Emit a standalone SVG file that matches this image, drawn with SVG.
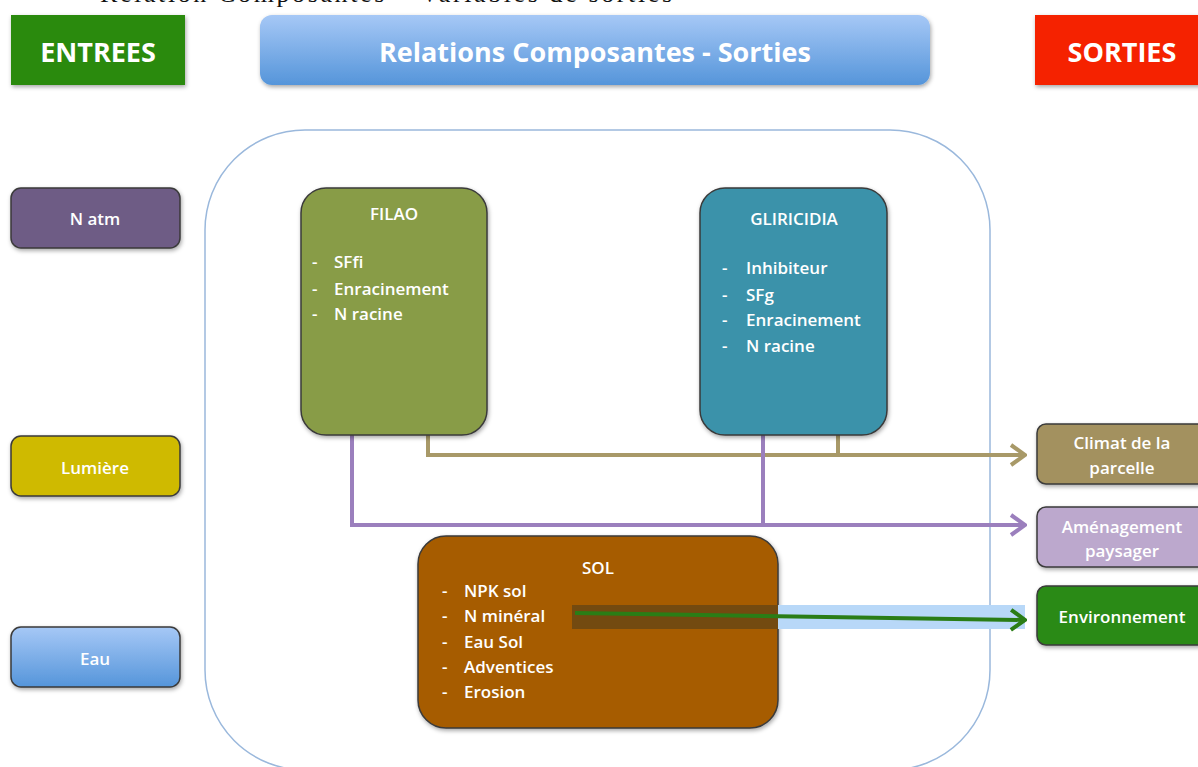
<svg xmlns="http://www.w3.org/2000/svg" width="1198" height="767" viewBox="0 0 1198 767">
<defs>
<style>
.t{font-family:"Open Sans","Liberation Sans",sans-serif;fill:#fff;font-weight:600}
.h{font-family:"Open Sans","Liberation Sans",sans-serif;fill:#fff;font-weight:700;font-size:27px}
.n{font-size:17px}
.box{stroke:#3a3a3a;stroke-width:1.5;filter:url(#sh)}
.c{fill:none;stroke-width:4}
</style>
<filter id="sh" x="-10%" y="-10%" width="125%" height="130%"><feDropShadow dx="1" dy="2" stdDeviation="2" flood-color="#000" flood-opacity="0.35"/></filter>
<linearGradient id="bl" x1="0" y1="0" x2="0" y2="1"><stop offset="0" stop-color="#a6c8f6"/><stop offset="1" stop-color="#5595da"/></linearGradient>
<marker id="aT" viewBox="0 0 20 24" refX="18" refY="12" markerWidth="20" markerHeight="24" markerUnits="userSpaceOnUse" orient="auto"><path d="M4,2 L18,12 L4,22" fill="none" stroke="#a89968" stroke-width="4"/></marker>
<marker id="aP" viewBox="0 0 20 24" refX="18" refY="12" markerWidth="20" markerHeight="24" markerUnits="userSpaceOnUse" orient="auto"><path d="M4,2 L18,12 L4,22" fill="none" stroke="#9b7fbd" stroke-width="4"/></marker>
<marker id="aG" viewBox="0 0 20 24" refX="18" refY="12" markerWidth="20" markerHeight="24" markerUnits="userSpaceOnUse" orient="auto"><path d="M4,2 L18,12 L4,22" fill="none" stroke="#2a7d16" stroke-width="4"/></marker>
</defs>
<rect width="1198" height="767" fill="#fff"/>
<text x="100" y="2" font-family="Liberation Serif,serif" font-size="26" fill="#111" textLength="572">Relation Composantes – Variables de sorties</text>

<g id="entrees"><rect x="11" y="15" width="174" height="70" fill="#2a8a0a" filter="url(#sh)"/><text class="h" x="98" y="62" text-anchor="middle">ENTREES</text></g>
<g id="titre"><rect x="260" y="15" width="670" height="70" rx="12" fill="url(#bl)" filter="url(#sh)"/><text class="h" x="595" y="62" text-anchor="middle">Relations Composantes - Sorties</text></g>
<g id="sorties"><rect x="1035" y="15" width="170" height="70" fill="#f52000" filter="url(#sh)"/><text class="h" x="1122" y="62" text-anchor="middle">SORTIES</text></g>

<g id="systeme"><rect x="205" y="130" width="785" height="640" rx="100" fill="none" stroke="#9ab8dc" stroke-width="1.5"/></g>

<g id="natm"><rect class="box" x="11" y="188" width="169" height="60" rx="10" fill="#6e5b85"/><text class="t n" x="95" y="225" text-anchor="middle">N atm</text></g>
<g id="lumiere"><rect class="box" x="11" y="436" width="169" height="60" rx="10" fill="#cfba04"/><text class="t n" x="95" y="474" text-anchor="middle">Lumière</text></g>
<g id="eau"><rect class="box" x="11" y="627" width="169" height="60" rx="10" fill="url(#bl)"/><text class="t n" x="95" y="665" text-anchor="middle">Eau</text></g>

<g id="connecteurs">
<path class="c" stroke="#a89968" d="M428,435 V455 H1025" marker-end="url(#aT)"/>
<path class="c" stroke="#a89968" d="M838,435 V455"/>
<path class="c" stroke="#9b7fbd" d="M352,435 V525 H1025" marker-end="url(#aP)"/>
<path class="c" stroke="#9b7fbd" d="M763,435 V525"/>
</g>

<g id="filao"><rect class="box" x="301" y="188" width="186" height="247" rx="25" fill="#889c46"/>
<text class="t n" x="394" y="220" text-anchor="middle">FILAO</text>
<text class="t n" x="312" y="268">-</text><text class="t n" x="334" y="268">SFfi</text>
<text class="t n" x="312" y="295">-</text><text class="t n" x="334" y="295">Enracinement</text>
<text class="t n" x="312" y="320">-</text><text class="t n" x="334" y="320">N racine</text></g>

<g id="gliricidia"><rect class="box" x="700" y="188" width="187" height="247" rx="25" fill="#3a92aa"/>
<text class="t n" x="794" y="225" text-anchor="middle">GLIRICIDIA</text>
<text class="t n" x="722" y="274">-</text><text class="t n" x="746" y="274">Inhibiteur</text>
<text class="t n" x="722" y="301">-</text><text class="t n" x="746" y="301">SFg</text>
<text class="t n" x="722" y="326">-</text><text class="t n" x="746" y="326">Enracinement</text>
<text class="t n" x="722" y="352">-</text><text class="t n" x="746" y="352">N racine</text></g>

<g id="sol"><rect class="box" x="418" y="536" width="360" height="192" rx="28" fill="#a65c00"/>
<text class="t n" x="598" y="574" text-anchor="middle">SOL</text>
<text class="t n" x="442" y="597">-</text><text class="t n" x="464" y="597">NPK sol</text>
<text class="t n" x="442" y="622">-</text><text class="t n" x="464" y="622">N minéral</text>
<text class="t n" x="442" y="648">-</text><text class="t n" x="464" y="648">Eau Sol</text>
<text class="t n" x="442" y="673">-</text><text class="t n" x="464" y="673">Adventices</text>
<text class="t n" x="442" y="698">-</text><text class="t n" x="464" y="698">Erosion</text></g>

<g id="connecteur-env">
<rect x="572" y="605" width="206" height="24" fill="#734a10"/>
<rect x="778" y="605" width="247" height="24" fill="#b8d8f8"/>
<path class="c" stroke="#2a7d16" d="M575,613 L1025,620" marker-end="url(#aG)"/>
</g>

<g id="climat"><rect class="box" x="1037" y="424" width="170" height="60" rx="9" fill="#a3915f"/><text class="t n" x="1122" y="449" text-anchor="middle">Climat de la</text><text class="t n" x="1122" y="474" text-anchor="middle">parcelle</text></g>
<g id="amenagement"><rect class="box" x="1037" y="507" width="170" height="60" rx="9" fill="#bca8cd"/><text class="t n" x="1122" y="533" text-anchor="middle">Aménagement</text><text class="t n" x="1122" y="557" text-anchor="middle">paysager</text></g>
<g id="environnement"><rect class="box" x="1037" y="586" width="170" height="59" rx="9" fill="#2a8a14"/><text class="t n" x="1122" y="623" text-anchor="middle">Environnement</text></g>
</svg>
